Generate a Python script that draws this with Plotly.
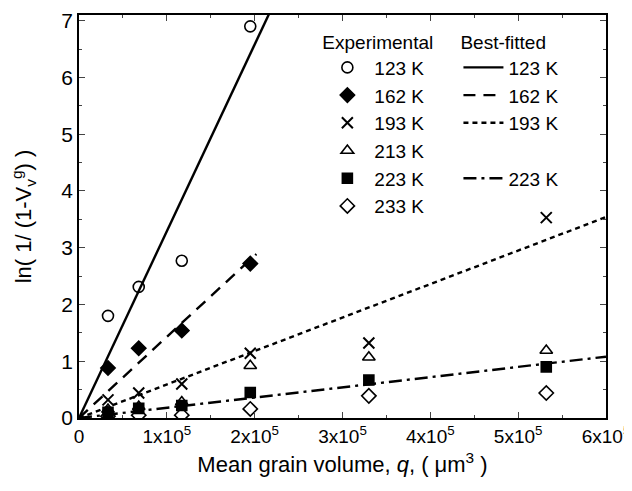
import plotly.graph_objects as go

q = [0.33e5, 0.68e5, 1.17e5, 1.95e5, 3.30e5, 5.32e5]
exp_labels = ["123 K", "162 K", "193 K", "213 K", "223 K", "233 K"]
exp_values = {
    "123 K": [1.80, 2.31, 2.77, 6.90, None, None],
    "162 K": [0.88, 1.23, 1.54, 2.72, None, None],
    "193 K": [0.32, 0.44, 0.60, 1.14, 1.32, 3.53],
    "213 K": [0.15, 0.20, 0.28, 0.92, 1.07, 1.19],
    "223 K": [0.10, 0.17, 0.22, 0.45, 0.67, 0.90],
    "233 K": [0.03, 0.05, 0.05, 0.16, 0.39, 0.44],
}
symbols = ["circle-open", "diamond", "x-thin-open", "triangle-up-open", "square", "diamond-open"]
msizes = [11, 11, 11, 11, 10, 11]

fit_labels = ["123 K", "162 K", "193 K", "223 K"]
fit_slopes = [3.29e-5, 1.43e-5, 5.9e-6, 1.8e-6]
fit_xmax = [2.3e5, 2.02e5, 6.0e5, 6.0e5]
fit_dash = ["solid", "12px,8px", "5px,4px", "13px,5px,3px,5px"]

fig = go.Figure()
font = "Liberation Sans, Arial, sans-serif"

for lab, sym, ms in zip(exp_labels, symbols, msizes):
    fig.add_trace(go.Scatter(
        x=q, y=exp_values[lab], mode="markers", name=lab, legend="legend",
        marker=dict(symbol=sym, size=ms, color="black",
                    line=dict(color="black", width=2 if sym == "x-thin-open" else 1.6)),
    ))

for lab, s, xm, d in zip(fit_labels, fit_slopes, fit_xmax, fit_dash):
    if lab == "223 K":
        fig.add_trace(go.Scatter(x=[None], y=[None], mode="lines", name=" ",
                                 legend="legend2", line=dict(width=0, color="white")))
    fig.add_trace(go.Scatter(
        x=[0, xm], y=[0, s * xm], mode="lines", name=lab, legend="legend2",
        line=dict(color="black", width=2.4, dash=d),
    ))

tickvals = [0, 1e5, 2e5, 3e5, 4e5, 5e5, 6e5]
ticktext = ["0"] + [f"{k}x10<sup>5</sup>" for k in range(1, 7)]

fig.update_layout(
    width=624, height=483,
    margin=dict(l=71, r=26, t=7, b=73),
    paper_bgcolor="white", plot_bgcolor="white",
    font=dict(family=font, size=19, color="black"),
    legend=dict(x=0.458, y=0.978, xanchor="left", yanchor="top",
                title=dict(text="Experimental", font=dict(size=19)),
                bgcolor="rgba(0,0,0,0)", tracegroupgap=0,
                font=dict(size=19), itemwidth=44),
    legend2=dict(x=0.72, y=0.978, xanchor="left", yanchor="top",
                 title=dict(text="Best-fitted", font=dict(size=19)),
                 bgcolor="rgba(0,0,0,0)", tracegroupgap=0,
                 font=dict(size=19), itemwidth=40),
    xaxis=dict(range=[0, 6e5], tickvals=tickvals, ticktext=ticktext,
               ticks="inside", ticklen=6, tickwidth=1.3, mirror="ticks",
               showline=True, linecolor="black", linewidth=1.6,
               showgrid=False, zeroline=False, automargin=False,
               minor=dict(dtick=5e4, ticks="inside", ticklen=3, tickwidth=1.3, tick0=0),
               title=dict(text="Mean grain volume, <i>q</i>, ( \u03bcm<sup>3</sup> )",
                          font=dict(size=22), standoff=11),
               tickfont=dict(size=19)),
    yaxis=dict(range=[0, 7.1], dtick=1, tick0=0,
               ticks="inside", ticklen=6, tickwidth=1.3, mirror="ticks",
               showline=True, linecolor="black", linewidth=1.6,
               showgrid=False, zeroline=False, automargin=False,
               minor=dict(dtick=0.5, ticks="inside", ticklen=3, tickwidth=1.3, tick0=0),
               title=dict(text="ln( 1/ (1-V<sub>v</sub><sup>g</sup>) )",
                          font=dict(size=22), standoff=30),
               tickfont=dict(size=21)),
)

fig.write_html("out.html")
